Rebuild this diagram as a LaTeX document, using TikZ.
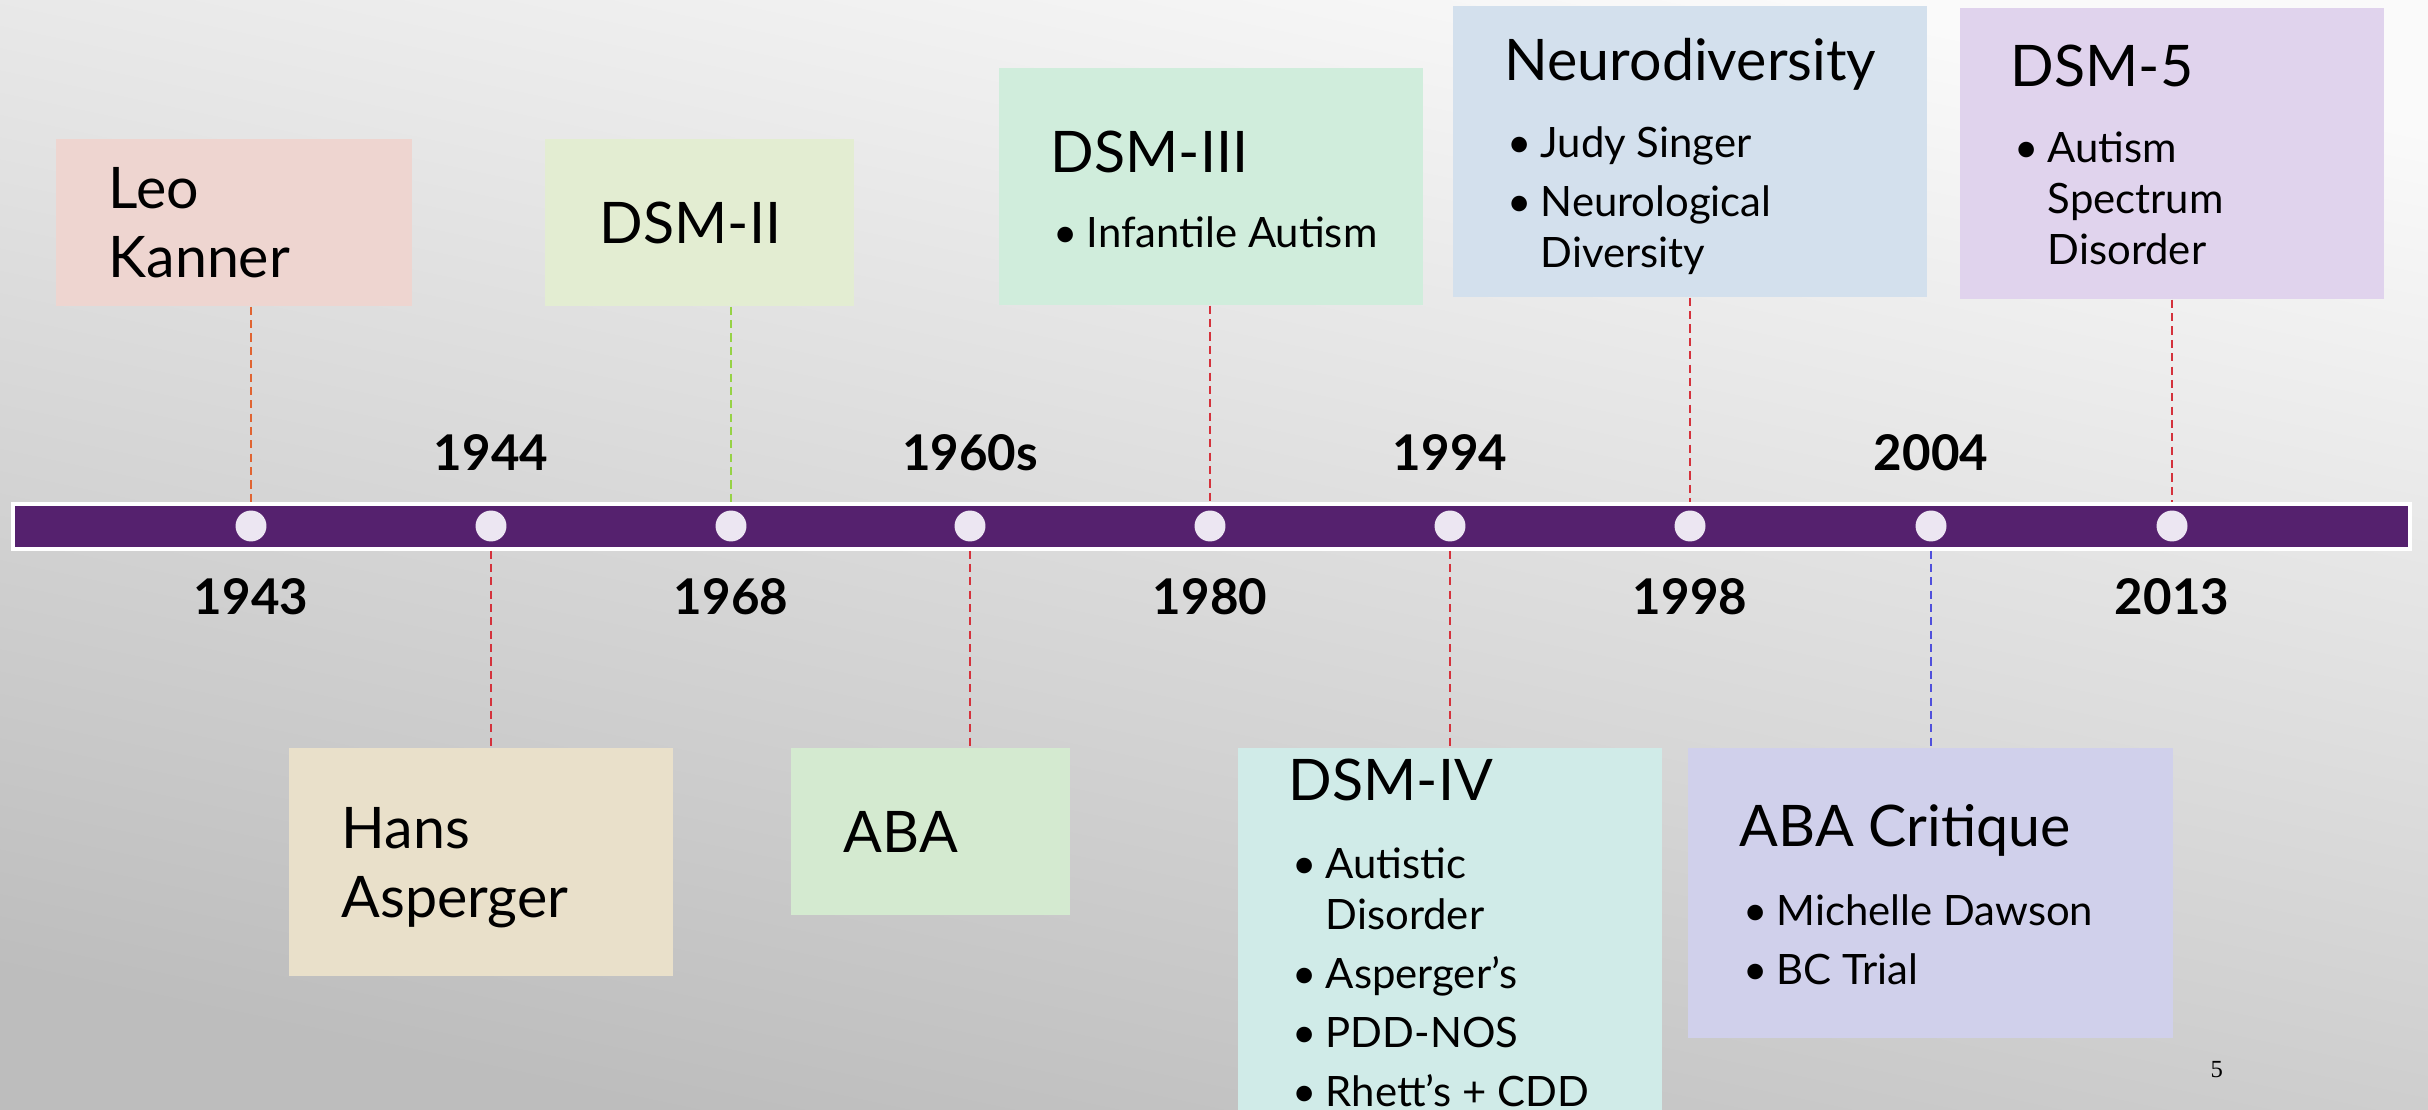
\documentclass[tikz,border=0pt]{standalone}
\usepackage{fontspec}
\setmainfont{Lato}
\newfontfamily\pagenumfont{Liberation Serif}
\usepackage{xcolor}
\usepackage{tikz}
\usetikzlibrary{positioning}
\usetikzlibrary{fit}
\definecolor{barpurple}{RGB}{85,33,110}
\definecolor{dotfill}{RGB}{236,230,242}
\definecolor{kannerfill}{RGB}{238,213,208}
\definecolor{dsmiifill}{RGB}{227,237,210}
\definecolor{dsmiiifill}{RGB}{208,237,220}
\definecolor{neurofill}{RGB}{211,224,237}
\definecolor{dsmvfill}{RGB}{224,211,237}
\definecolor{aspergerfill}{RGB}{233,224,202}
\definecolor{abafill}{RGB}{212,234,208}
\definecolor{dsmivfill}{RGB}{208,235,232}
\definecolor{critiquefill}{RGB}{208,208,235}
\definecolor{dashorange}{RGB}{224,100,50}
\definecolor{dashgreen}{RGB}{150,210,70}
\definecolor{dashred}{RGB}{212,50,60}
\definecolor{dashblue}{RGB}{80,80,220}
\newcommand\topstrut{\rule{0pt}{14pt}}
\newcommand\itm{\makebox[8.25pt][l]{\hspace*{-1.3pt}\textbullet}}
\newcommand\cont{\hspace*{8.25pt}}

\begin{document}
\begin{tikzpicture}[x=0.01cm,y=-0.01cm,
		card/.style={inner sep=0pt,fill=#1},
		title/.style={anchor=north west,inner sep=0pt,yshift=14pt,align=left,font=\fontsize{16.3}{19.6}\selectfont},
		items/.style={anchor=north west,inner sep=0pt,yshift=14pt,align=left,font=\fontsize{11.9}{14.5}\selectfont},
		year/.style={anchor=base,inner sep=0pt,font=\fontsize{14}{16}\selectfont\bfseries},
		dot/.style={circle,fill=dotfill,inner sep=0pt,minimum size=8.8pt},
		link/.style={draw=#1,dash pattern=on 2.3pt off 1.5pt,line width=0.45pt}]
		\useasboundingbox (0,0) rectangle (2428,1110);
		\shade [top color=black!2,bottom color=black!26,shading angle=-12] (0,0) rectangle (2428,1110);
		\node [card=kannerfill,fit={(56,139)(412,306)}] (kanner) {};
		\node [card=dsmiifill,fit={(545,139)(854,306)}] (dsmii) {};
		\node [card=dsmiiifill,fit={(999,68)(1423,305)}] (dsmiii) {};
		\node [card=neurofill,fit={(1453,6)(1927,297)}] (neuro) {};
		\node [card=dsmvfill,fit={(1960,8)(2384,299)}] (dsmv) {};
		\node [card=aspergerfill,fit={(289,748)(673,976)}] (asperger) {};
		\node [card=abafill,fit={(791,748)(1070,915)}] (aba) {};
		\node [card=dsmivfill,fit={(1238,748)(1662,1110)}] (dsmiv) {};
		\node [card=critiquefill,fit={(1688,748)(2173,1038)}] (critique) {};
		\node [fill=barpurple,draw=white,line width=0.9pt,inner sep=0pt,fit={(13,504)(2410,549)}] (bar) {};
		\foreach \i/\x in {1/251,2/491,3/731,4/970,5/1210,6/1450,7/1690,8/1931,9/2172}
			\node [dot] (d\i) at (\x,526) {};
		\foreach \i/\y in {2/1944,4/1960s,6/1994,8/2004}
			\node [year] (y\y) at (d\i |- 0,471) {\y};
		\foreach \i/\y in {1/1943,3/1968,5/1980,7/1998,9/2013}
			\node [year] (y\y) at (d\i |- 0,614) {\y};
		\foreach \b/\i/\c in {kanner/1/dashorange,dsmii/3/dashgreen,dsmiii/5/dashred,neuro/7/dashred,dsmv/9/dashred}
			\draw [link=\c] (d\i |- \b.south) -- (d\i |- bar.north);
		\foreach \b/\i/\c in {asperger/2/dashred,aba/4/dashred,dsmiv/6/dashred,critique/8/dashblue}
			\draw [link=\c] (d\i |- bar.south) -- (d\i |- \b.north);
		\node [title] (kannerText) at (108,208) {\topstrut Leo\\Kanner};
		\node [title] (dsmiiText) at (599,243) {\topstrut DSM-II};
		\node [title] (dsmiiiText) at (1050,172) {\topstrut DSM-III};
		\node [items] (dsmiiiList) at (1057,247) {\topstrut\itm Infantile Autism};
		\node [title] (neuroText) at (1504,80) {\topstrut Neurodiversity};
		\node [items] (neuroList) at (1511,157) {\topstrut\itm Judy Singer\\[2.3pt]\itm Neurological\\\cont Diversity};
		\node [title] (dsmvText) at (2010,86) {\topstrut DSM-5};
		\node [items] (dsmvList) at (2018,162) {\topstrut\itm Autism\\\cont Spectrum\\\cont Disorder};
		\node [title] (aspergerText) at (341,848) {\topstrut Hans\\Asperger};
		\node [title] (abaText) at (843,852) {\topstrut ABA};
		\node [title] (dsmivText) at (1288,800) {\topstrut DSM-IV};
		\node [items] (dsmivList) at (1296,878) {\topstrut\itm Autistic\\\cont Disorder\\[2.3pt]\itm Asperger’s\\[2.3pt]\itm PDD-NOS\\[2.3pt]\itm Rhett’s + CDD};
		\node [title] (critiqueText) at (1739,846) {\topstrut ABA Critique};
		\node [items] (critiqueList) at (1747,925) {\topstrut\itm Michelle Dawson\\[2.3pt]\itm BC Trial};
		\node [anchor=base west,inner sep=0pt,font=\pagenumfont\fontsize{7}{8}\selectfont] (pagenum) at (2210,1077) {5};
\end{tikzpicture}
\end{document}
